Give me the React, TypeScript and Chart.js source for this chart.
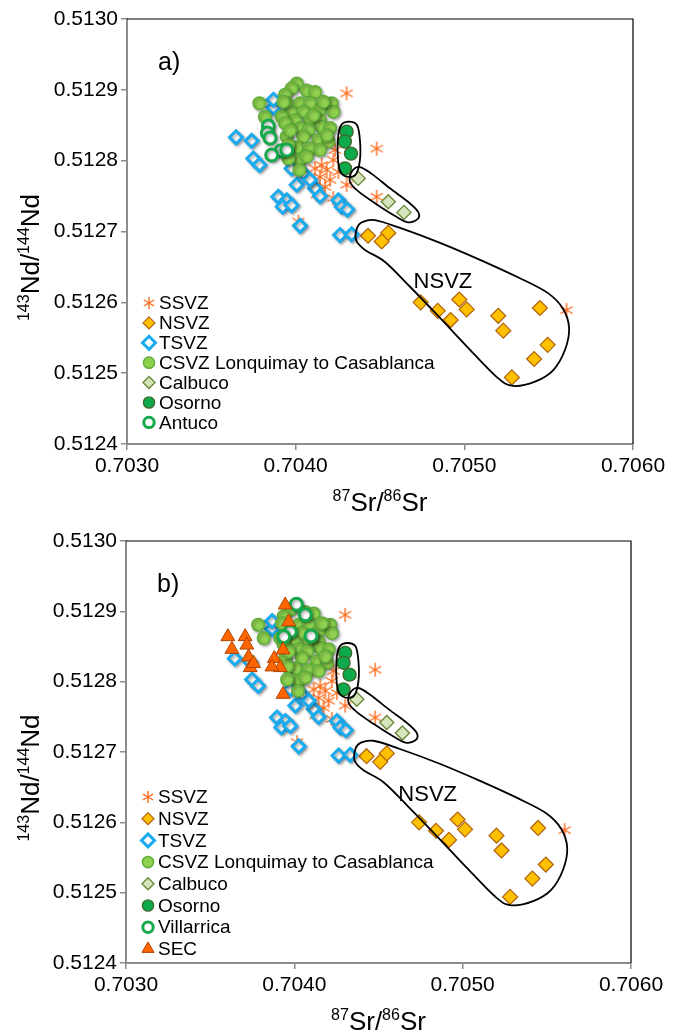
import React, { useEffect, useRef } from 'react';
import { Chart, registerables } from 'chart.js';

Chart.register(...registerables);

const FONT = '"Liberation Sans", Arial, Helvetica, sans-serif';

// Axis ranges and tick values
const srRange = [0.703, 0.706];
const ndRange = [0.5124, 0.513];
const srTicks = [0.703, 0.704, 0.705, 0.706];
const ndTicks = [0.5124, 0.5125, 0.5126, 0.5127, 0.5128, 0.5129, 0.513];

// [87Sr/86Sr, 143Nd/144Nd] per sample
const ssvz: [number, number][] = [
  [0.704302, 0.512895], [0.70448, 0.512817], [0.70448, 0.512749], [0.705606, 0.512589],
  [0.704115, 0.512789], [0.704154, 0.512794], [0.704184, 0.512787], [0.704144, 0.512777],
  [0.704204, 0.512773], [0.704233, 0.512815], [0.704223, 0.512801], [0.704174, 0.512763],
  [0.704223, 0.512747], [0.704302, 0.512766], [0.704125, 0.512752], [0.704253, 0.512784],
  [0.704016, 0.512714],
];

const nsvz: [number, number][] = [
  [0.704741, 0.5126], [0.704842, 0.512588], [0.704919, 0.512575], [0.70497, 0.512604],
  [0.705014, 0.51259], [0.705201, 0.512581], [0.705231, 0.51256], [0.705448, 0.512592],
  [0.705494, 0.51254], [0.705414, 0.51252], [0.705282, 0.512494], [0.704549, 0.512698],
  [0.70451, 0.512686], [0.704429, 0.512694],
];

const tsvz: [number, number][] = [
  [0.703646, 0.512833], [0.703739, 0.512828], [0.703868, 0.512875], [0.703749, 0.512803],
  [0.703785, 0.512794], [0.703976, 0.512789], [0.704006, 0.512766], [0.704115, 0.512761],
  [0.704144, 0.51275], [0.703897, 0.512749], [0.703947, 0.512744], [0.703923, 0.512735],
  [0.703976, 0.512737], [0.704253, 0.512744], [0.704273, 0.512735], [0.704306, 0.512731],
  [0.704026, 0.512708], [0.704263, 0.512695], [0.704332, 0.512696], [0.704045, 0.512782],
  [0.703868, 0.512886], [0.704085, 0.512773],
];

const csvz: [number, number][] = [
  [0.704006, 0.512909], [0.703976, 0.512902], [0.703937, 0.512893], [0.704065, 0.512899],
  [0.704115, 0.512897], [0.703785, 0.512881], [0.703947, 0.512881], [0.704026, 0.512881],
  [0.704085, 0.512881], [0.704213, 0.512881], [0.704144, 0.512872], [0.703976, 0.512867],
  [0.704045, 0.512869], [0.703917, 0.512862], [0.703818, 0.512862], [0.704223, 0.512869],
  [0.704085, 0.512857], [0.703996, 0.512857], [0.703937, 0.512853], [0.704144, 0.512857],
  [0.704026, 0.512846], [0.704154, 0.512848], [0.704075, 0.512843], [0.704204, 0.512846],
  [0.704045, 0.512834], [0.703947, 0.512834], [0.704134, 0.512829], [0.704194, 0.512827],
  [0.704006, 0.512819], [0.704085, 0.512817], [0.704144, 0.512815], [0.704026, 0.512801],
  [0.704022, 0.512787], [0.703957, 0.512822], [0.703927, 0.512883], [0.704164, 0.512883],
  [0.704105, 0.512864], [0.704184, 0.512836], [0.703966, 0.512843], [0.703957, 0.512803],
  [0.704065, 0.512806],
];

const calbuco: [number, number][] = [
  [0.704371, 0.512775], [0.704549, 0.512742], [0.704642, 0.512727],
];

const osorno: [number, number][] = [
  [0.704302, 0.512841], [0.704292, 0.512827], [0.704328, 0.51281], [0.704292, 0.512789],
];

const antuco: [number, number][] = [
  [0.703838, 0.512849], [0.703832, 0.512839], [0.703848, 0.512832], [0.703913, 0.512814],
  [0.703858, 0.512808], [0.703947, 0.512815],
];

const villarrica: [number, number][] = [
  [0.704012, 0.51291], [0.704065, 0.512895], [0.703976, 0.512871], [0.704099, 0.512865],
  [0.703937, 0.512864],
];

const sec: [number, number][] = [
  [0.703946, 0.512909], [0.703966, 0.512885], [0.703605, 0.512864], [0.703708, 0.512864],
  [0.703629, 0.512846], [0.703718, 0.512852], [0.703728, 0.512835], [0.703738, 0.51282],
  [0.703758, 0.512826], [0.703933, 0.512845], [0.703881, 0.512833], [0.703917, 0.51282],
  [0.703867, 0.512821], [0.703933, 0.512782],
];

// Field outlines (closed, smoothed)
const nsvzField: [number, number][] = [
  [0.704393, 0.512713], [0.70447, 0.512716], [0.704619, 0.512705], [0.704856, 0.512684],
  [0.705093, 0.51266], [0.70533, 0.512634], [0.705496, 0.512613], [0.705585, 0.512591],
  [0.705621, 0.512564], [0.705597, 0.512533], [0.705526, 0.512504], [0.705419, 0.512488],
  [0.705289, 0.512482], [0.7052, 0.512493], [0.705034, 0.512533], [0.704856, 0.512578],
  [0.704678, 0.512622], [0.70453, 0.512657], [0.704411, 0.512674], [0.704358, 0.512688],
  [0.704364, 0.512705],
];

const calbucoField: [number, number][] = [
  [0.704334, 0.512785], [0.704381, 0.512791], [0.704453, 0.512781], [0.704559, 0.512761],
  [0.704666, 0.512742], [0.704725, 0.512728], [0.704725, 0.512718], [0.704666, 0.512713],
  [0.704589, 0.512722], [0.70447, 0.51274], [0.70437, 0.512757], [0.704322, 0.51277],
];

const osornoField: [number, number][] = [
  [0.704316, 0.512855], [0.704364, 0.51285], [0.704381, 0.512829], [0.704381, 0.512801],
  [0.704358, 0.512781], [0.704316, 0.512777], [0.704269, 0.512783], [0.704251, 0.512801],
  [0.704251, 0.512832], [0.704269, 0.51285],
];

type Series = {
  label: string;
  data: [number, number][];
  style: 'star' | 'circle' | 'rectRot' | 'triangle';
  radius: number;
  legendRadius: number;
  fill: string;
  stroke: string;
  width: number;
  shadow?: boolean;
};

const STAR = '#FF6A1A';

const sSSVZ: Series = { label: 'SSVZ', data: ssvz, style: 'star', radius: 7, legendRadius: 6, fill: STAR, stroke: STAR, width: 1.4 };
const sNSVZ: Series = { label: 'NSVZ', data: nsvz, style: 'rectRot', radius: 7.5, legendRadius: 6, fill: '#FFC000', stroke: '#B0620C', width: 1.2 };
const sTSVZ: Series = { label: 'TSVZ', data: tsvz, style: 'rectRot', radius: 6.5, legendRadius: 6.5, fill: '#FFFFFF', stroke: '#1AABEF', width: 3, shadow: true };
const sCSVZ: Series = { label: 'CSVZ Lonquimay to Casablanca', data: csvz, style: 'circle', radius: 6.3, legendRadius: 5.6, fill: '#8FD14F', stroke: '#5EAF3A', width: 1.5, shadow: true };
const sCalbuco: Series = { label: 'Calbuco', data: calbuco, style: 'rectRot', radius: 7, legendRadius: 6, fill: '#D6E4BC', stroke: '#6A8A3A', width: 1.4 };
const sOsorno: Series = { label: 'Osorno', data: osorno, style: 'circle', radius: 6.5, legendRadius: 5.6, fill: '#0DAA4C', stroke: '#3F6A2C', width: 1.4 };
const sAntuco: Series = { label: 'Antuco', data: antuco, style: 'circle', radius: 6, legendRadius: 5.2, fill: '#FFFFFF', stroke: '#14A94B', width: 3, shadow: true };
const sVillarrica: Series = { label: 'Villarrica', data: villarrica, style: 'circle', radius: 6, legendRadius: 5.2, fill: '#FFFFFF', stroke: '#14A94B', width: 3, shadow: true };
const sSEC: Series = { label: 'SEC', data: sec, style: 'triangle', radius: 8, legendRadius: 7, fill: '#FF6600', stroke: '#B04400', width: 1 };

type PanelCfg = {
  tag: string;
  height: number;
  padTop: number;
  padRight: number;
  yAxisW: number;
  xAxisH: number;
  series: Series[];
  nsvzLabel: [number, number];
  legendTop: number;
  legendGap: number;
};

const panels: PanelCfg[] = [
  {
    tag: 'a)', height: 517, padTop: 19, padRight: 50, yAxisW: 127, xAxisH: 73,
    series: [sSSVZ, sNSVZ, sTSVZ, sCSVZ, sCalbuco, sOsorno, sAntuco],
    nsvzLabel: [0.704873, 0.512629], legendTop: 303, legendGap: 19.9,
  },
  {
    tag: 'b)', height: 516, padTop: 24, padRight: 52, yAxisW: 126, xAxisH: 70,
    series: [sSSVZ, sNSVZ, sTSVZ, sCSVZ, sCalbuco, sOsorno, sVillarrica, sSEC],
    nsvzLabel: [0.704792, 0.512639], legendTop: 280, legendGap: 21.7,
  },
];

function makeStar(r: number, color: string, lw: number): HTMLCanvasElement {
  const size = Math.ceil(r * 2 + 2);
  const c = document.createElement('canvas');
  c.width = size;
  c.height = size;
  const g = c.getContext('2d')!;
  const m = size / 2;
  g.strokeStyle = color;
  g.lineWidth = lw;
  g.lineCap = 'butt';
  for (let k = 0; k < 3; k++) {
    const a = (k * Math.PI) / 3;
    g.beginPath();
    g.moveTo(m + Math.sin(a) * r, m - Math.cos(a) * r);
    g.lineTo(m - Math.sin(a) * r, m + Math.cos(a) * r);
    g.stroke();
  }
  return c;
}

function drawMarker(ctx: CanvasRenderingContext2D, s: Series, x: number, y: number, r: number) {
  ctx.save();
  if (s.style === 'star') {
    const img = makeStar(r, s.stroke, s.width);
    ctx.drawImage(img, x - img.width / 2, y - img.height / 2);
    ctx.restore();
    return;
  }
  ctx.beginPath();
  if (s.style === 'circle') {
    ctx.arc(x, y, r, 0, Math.PI * 2);
  } else if (s.style === 'rectRot') {
    ctx.moveTo(x, y - r);
    ctx.lineTo(x + r, y);
    ctx.lineTo(x, y + r);
    ctx.lineTo(x - r, y);
    ctx.closePath();
  } else {
    for (let k = 0; k < 3; k++) {
      const a = (k * 2 * Math.PI) / 3;
      const px = x + Math.sin(a) * r;
      const py = y - Math.cos(a) * r;
      if (k === 0) ctx.moveTo(px, py);
      else ctx.lineTo(px, py);
    }
    ctx.closePath();
  }
  ctx.fillStyle = s.fill;
  ctx.fill();
  ctx.lineWidth = s.width;
  ctx.strokeStyle = s.stroke;
  ctx.stroke();
  ctx.restore();
}

function smoothClosed(ctx: CanvasRenderingContext2D, pts: { x: number; y: number }[]) {
  const n = pts.length;
  ctx.beginPath();
  ctx.moveTo(pts[0].x, pts[0].y);
  for (let i = 0; i < n; i++) {
    const p0 = pts[(i - 1 + n) % n];
    const p1 = pts[i];
    const p2 = pts[(i + 1) % n];
    const p3 = pts[(i + 2) % n];
    ctx.bezierCurveTo(
      p1.x + (p2.x - p0.x) / 6, p1.y + (p2.y - p0.y) / 6,
      p2.x - (p3.x - p1.x) / 6, p2.y - (p3.y - p1.y) / 6,
      p2.x, p2.y,
    );
  }
  ctx.closePath();
}

// Text with raised mass numbers, e.g. [['87', true], ['Sr/', false], ...]
function richWidth(ctx: CanvasRenderingContext2D, parts: [string, boolean][], big: number, small: number) {
  let w = 0;
  for (const [t, sup] of parts) {
    ctx.font = `${sup ? small : big}px ${FONT}`;
    w += ctx.measureText(t).width;
  }
  return w;
}
function drawRich(ctx: CanvasRenderingContext2D, parts: [string, boolean][], x: number, y: number, big: number, small: number) {
  let cx = x;
  ctx.textBaseline = 'alphabetic';
  ctx.textAlign = 'left';
  for (const [t, sup] of parts) {
    ctx.font = `${sup ? small : big}px ${FONT}`;
    ctx.fillText(t, cx, sup ? y - big * 0.38 : y);
    cx += ctx.measureText(t).width;
  }
}

const xTitle: [string, boolean][] = [['87', true], ['Sr/', false], ['86', true], ['Sr', false]];
const yTitle: [string, boolean][] = [['143', true], ['Nd/', false], ['144', true], ['Nd', false]];

function decorPlugin(cfg: PanelCfg) {
  return {
    id: 'decor',
    beforeDatasetDraw(chart: any, args: any) {
      const ds = chart.data.datasets[args.index];
      if (ds.shadow) {
        const ctx = chart.ctx;
        ctx.save();
        ctx.shadowColor = 'rgba(0,0,0,0.35)';
        ctx.shadowBlur = 3;
        ctx.shadowOffsetX = 1.5;
        ctx.shadowOffsetY = 1.5;
      }
    },
    afterDatasetDraw(chart: any, args: any) {
      const ds = chart.data.datasets[args.index];
      if (ds.shadow) chart.ctx.restore();
    },
    afterDatasetsDraw(chart: any) {
      const { ctx, scales } = chart;
      const toPx = (pts: [number, number][]) =>
        pts.map(([a, b]) => ({ x: scales.x.getPixelForValue(a), y: scales.y.getPixelForValue(b) }));
      ctx.save();
      ctx.strokeStyle = '#000';
      ctx.lineWidth = 1.8;
      for (const f of [osornoField, calbucoField, nsvzField]) {
        smoothClosed(ctx, toPx(f));
        ctx.stroke();
      }
      ctx.restore();
    },
    afterDraw(chart: any) {
      const { ctx, chartArea: a, scales } = chart;
      ctx.save();
      // frame on top and right
      ctx.strokeStyle = '#000';
      ctx.lineWidth = 1.2;
      ctx.beginPath();
      ctx.moveTo(a.left, a.top);
      ctx.lineTo(a.right, a.top);
      ctx.lineTo(a.right, a.bottom);
      ctx.stroke();

      ctx.fillStyle = '#000';
      // panel tag
      ctx.font = `25px ${FONT}`;
      ctx.textAlign = 'left';
      ctx.textBaseline = 'middle';
      ctx.fillText(cfg.tag, a.left + 31, a.top + 44);

      // field name
      ctx.font = `22px ${FONT}`;
      ctx.textAlign = 'center';
      ctx.fillText('NSVZ', scales.x.getPixelForValue(cfg.nsvzLabel[0]), scales.y.getPixelForValue(cfg.nsvzLabel[1]));

      // legend
      cfg.series.forEach((s, i) => {
        const y = cfg.legendTop + i * cfg.legendGap;
        drawMarker(ctx, s, a.left + 22, y, s.legendRadius);
        ctx.fillStyle = '#000';
        ctx.font = `19px ${FONT}`;
        ctx.textAlign = 'left';
        ctx.textBaseline = 'middle';
        ctx.fillText(s.label, a.left + 32, y + 1);
      });

      // axis titles
      const big = 26;
      const small = 16;
      const wx = richWidth(ctx, xTitle, big, small);
      drawRich(ctx, xTitle, (a.left + a.right) / 2 - wx / 2, a.bottom + 67, big, small);
      const wy = richWidth(ctx, yTitle, big, small);
      ctx.save();
      ctx.translate(39, (a.top + a.bottom) / 2 + 26);
      ctx.rotate(-Math.PI / 2);
      drawRich(ctx, yTitle, -wy / 2, 0, big, small);
      ctx.restore();
      ctx.restore();
    },
  };
}

function buildConfig(cfg: PanelCfg, star: HTMLCanvasElement): any {
  return {
    type: 'scatter',
    data: {
      datasets: cfg.series.map((s, i) => ({
        label: s.label,
        data: s.data.map(([x, y]) => ({ x, y })),
        pointStyle: s.style === 'star' ? star : s.style,
        pointRadius: s.radius,
        pointHoverRadius: s.radius,
        backgroundColor: s.fill,
        borderColor: s.stroke,
        borderWidth: s.width,
        shadow: !!s.shadow,
        order: -i,
      })),
    },
    options: {
      responsive: false,
      animation: false,
      events: [],
      layout: { padding: { left: 0, right: cfg.padRight, top: cfg.padTop, bottom: 0 } },
      plugins: { legend: { display: false }, tooltip: { enabled: false }, title: { display: false } },
      scales: {
        x: {
          type: 'linear',
          min: srRange[0],
          max: srRange[1],
          afterBuildTicks: (sc: any) => { sc.ticks = srTicks.map((v) => ({ value: v })); },
          afterFit: (sc: any) => { sc.height = cfg.xAxisH; },
          ticks: {
            callback: (v: any) => Number(v).toFixed(4),
            font: { family: FONT, size: 21 },
            color: '#000',
            padding: 4,
            maxRotation: 0,
            autoSkip: false,
          },
          grid: { drawOnChartArea: false, drawTicks: true, tickLength: 6, color: '#8c8c8c', lineWidth: 1.5 },
          border: { display: true, color: '#8c8c8c', width: 2 },
        },
        y: {
          type: 'linear',
          min: ndRange[0],
          max: ndRange[1],
          afterBuildTicks: (sc: any) => { sc.ticks = ndTicks.map((v) => ({ value: v })); },
          afterFit: (sc: any) => { sc.width = cfg.yAxisW; },
          ticks: {
            callback: (v: any) => Number(v).toFixed(4),
            font: { family: FONT, size: 21 },
            color: '#000',
            padding: 3,
            autoSkip: false,
          },
          grid: { drawOnChartArea: false, drawTicks: true, tickLength: 6, color: '#8c8c8c', lineWidth: 1.5 },
          border: { display: true, color: '#8c8c8c', width: 2 },
        },
      },
    },
    plugins: [decorPlugin(cfg)],
  };
}

function Panel({ cfg }: { cfg: PanelCfg }) {
  const ref = useRef<HTMLCanvasElement>(null);
  useEffect(() => {
    const star = makeStar(sSSVZ.radius, STAR, sSSVZ.width);
    const chart = new Chart(ref.current!, buildConfig(cfg, star));
    return () => chart.destroy();
  }, [cfg]);
  return <canvas ref={ref} width={683} height={cfg.height} style={{ display: 'block' }} />;
}

export default function App() {
  return (
    <div style={{ position: 'absolute', left: 0, top: 0, width: 683, background: '#fff' }}>
      {panels.map((p) => (
        <Panel key={p.tag} cfg={p} />
      ))}
    </div>
  );
}
